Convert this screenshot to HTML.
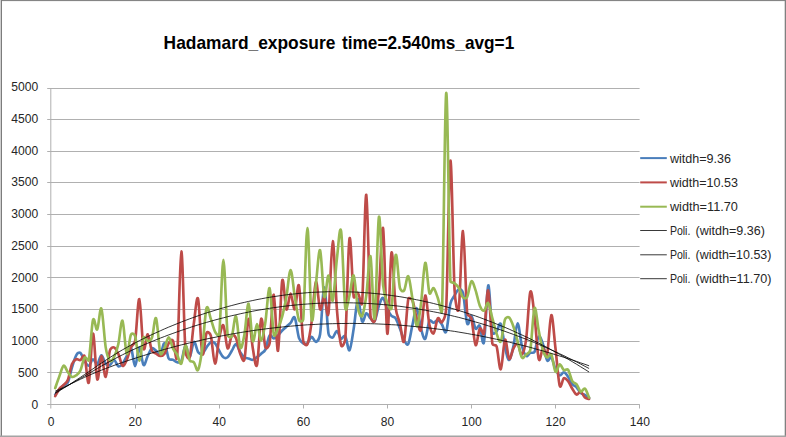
<!DOCTYPE html>
<html><head><meta charset="utf-8"><title>Hadamard_exposure time=2.540ms_avg=1</title>
<style>
html,body{margin:0;padding:0;background:#fff;}
body{width:786px;height:437px;overflow:hidden;}
svg{display:block;}
text{font-family:"Liberation Sans","DejaVu Sans",sans-serif;fill:#262626;}
.ax{font-size:12px;}
.lg{font-size:12px;}
.ti{font-size:18.5px;font-weight:bold;fill:#000;}
</style></head><body>
<svg width="786" height="437" viewBox="0 0 786 437">
<rect x="0" y="0" width="786" height="437" fill="#fff"/>
<line x1="47.2" y1="404.50" x2="639.6" y2="404.50" stroke="#b0b0b0" stroke-width="1"/>
<line x1="47.2" y1="372.50" x2="639.6" y2="372.50" stroke="#b0b0b0" stroke-width="1"/>
<line x1="47.2" y1="341.50" x2="639.6" y2="341.50" stroke="#b0b0b0" stroke-width="1"/>
<line x1="47.2" y1="309.50" x2="639.6" y2="309.50" stroke="#b0b0b0" stroke-width="1"/>
<line x1="47.2" y1="277.50" x2="639.6" y2="277.50" stroke="#b0b0b0" stroke-width="1"/>
<line x1="47.2" y1="246.50" x2="639.6" y2="246.50" stroke="#b0b0b0" stroke-width="1"/>
<line x1="47.2" y1="214.50" x2="639.6" y2="214.50" stroke="#b0b0b0" stroke-width="1"/>
<line x1="47.2" y1="182.50" x2="639.6" y2="182.50" stroke="#b0b0b0" stroke-width="1"/>
<line x1="47.2" y1="151.50" x2="639.6" y2="151.50" stroke="#b0b0b0" stroke-width="1"/>
<line x1="47.2" y1="119.50" x2="639.6" y2="119.50" stroke="#b0b0b0" stroke-width="1"/>
<line x1="47.2" y1="88.50" x2="639.6" y2="88.50" stroke="#b0b0b0" stroke-width="1"/>
<line x1="50.8" y1="88.0" x2="50.8" y2="408.5" stroke="#b0b0b0" stroke-width="1"/>
<line x1="135.5" y1="404.3" x2="135.5" y2="408.5" stroke="#b0b0b0" stroke-width="1"/>
<line x1="219.5" y1="404.3" x2="219.5" y2="408.5" stroke="#b0b0b0" stroke-width="1"/>
<line x1="303.5" y1="404.3" x2="303.5" y2="408.5" stroke="#b0b0b0" stroke-width="1"/>
<line x1="387.5" y1="404.3" x2="387.5" y2="408.5" stroke="#b0b0b0" stroke-width="1"/>
<line x1="471.5" y1="404.3" x2="471.5" y2="408.5" stroke="#b0b0b0" stroke-width="1"/>
<line x1="555.5" y1="404.3" x2="555.5" y2="408.5" stroke="#b0b0b0" stroke-width="1"/>
<line x1="639.5" y1="404.3" x2="639.5" y2="408.5" stroke="#b0b0b0" stroke-width="1"/>
<path d="M55.2,394.8C55.9,393.9 58.0,390.6 59.4,389.1C60.8,387.6 62.2,386.7 63.6,385.6C65.0,384.5 66.7,384.9 67.8,382.5C69.2,379.4 70.6,371.8 72.0,367.3C73.4,362.8 74.8,357.7 76.2,355.3C77.4,353.2 79.0,352.0 80.4,352.9C81.8,353.9 83.2,358.8 84.6,360.9C86.0,363.0 87.4,366.0 88.8,365.7C90.2,365.4 91.6,359.6 93.0,359.3C94.4,359.1 95.8,364.8 97.2,364.1C98.6,363.5 100.0,355.3 101.4,355.3C102.8,355.2 104.3,362.2 105.7,363.8C107.1,365.4 108.5,365.7 109.9,365.1C111.3,364.4 112.7,359.8 114.1,360.0C115.5,360.2 116.9,365.7 118.3,366.3C119.7,367.0 121.1,365.5 122.5,363.8C123.9,362.1 125.3,359.0 126.7,356.2C128.1,353.5 129.5,345.7 130.9,347.4C132.3,349.0 133.7,366.2 135.1,366.2C136.5,366.2 137.9,347.6 139.3,347.4C140.7,347.2 142.1,363.5 143.5,364.9C144.9,366.3 146.3,358.7 147.7,356.0C149.1,353.2 150.5,349.2 151.9,348.3C153.3,347.5 154.7,349.8 156.1,350.8C157.5,351.9 158.9,356.0 160.3,354.7C161.7,353.4 163.1,342.6 164.5,343.3C165.9,343.9 167.3,355.7 168.7,358.5C169.7,360.5 171.5,359.1 172.9,359.8C174.3,360.4 175.7,362.0 177.1,362.3C178.5,362.5 180.3,363.2 181.3,361.3C182.7,358.5 184.1,346.5 185.5,345.8C186.9,345.1 188.3,357.9 189.7,357.2C191.1,356.6 192.5,342.8 193.9,342.0C195.3,341.1 196.7,350.2 198.1,352.1C199.5,353.9 200.9,354.5 202.3,353.7C203.7,352.9 205.1,349.3 206.5,347.4C207.9,345.5 209.4,343.0 210.8,342.3C212.2,341.6 213.6,341.8 215.0,343.3C216.4,344.7 217.8,348.5 219.2,350.8C220.6,353.2 222.0,356.2 223.4,357.2C224.8,358.3 226.2,358.3 227.6,357.2C229.0,356.2 230.4,353.0 231.8,350.8C233.2,348.7 234.6,344.0 236.0,344.2C237.4,344.4 238.8,349.9 240.2,352.1C241.6,354.3 243.0,356.2 244.4,357.2C245.8,358.3 247.2,358.1 248.6,358.5C250.0,358.9 251.4,360.0 252.8,359.8C254.2,359.6 255.6,358.2 257.0,357.2C258.4,356.2 259.8,355.0 261.2,353.7C262.6,352.4 264.2,352.2 265.4,349.6C266.8,346.6 268.2,337.4 269.6,335.6C271.0,333.8 272.4,338.5 273.8,338.5C275.2,338.5 276.6,336.9 278.0,335.6C279.4,334.3 280.8,332.0 282.2,330.5C283.6,329.1 285.0,328.0 286.4,326.7C287.8,325.4 289.2,324.4 290.6,322.9C292.0,321.4 293.4,315.2 294.8,317.8C296.2,320.3 297.6,333.9 299.0,338.1C300.1,341.3 301.8,342.4 303.2,343.3C304.6,344.1 306.0,344.3 307.4,343.3C308.8,342.2 310.2,337.1 311.6,336.9C313.0,336.7 314.5,342.4 315.9,342.0C317.3,341.6 319.4,338.7 320.1,334.3C321.5,325.2 322.9,287.4 324.3,287.3C325.7,287.2 327.1,325.3 328.5,333.6C328.9,336.5 331.3,337.9 332.7,337.5C334.1,337.1 335.5,330.9 336.9,331.1C338.3,331.3 339.7,337.9 341.1,338.8C342.5,339.6 343.9,334.3 345.3,336.2C346.7,338.1 348.1,351.5 349.5,350.2C350.9,348.9 352.3,337.1 353.7,328.6C355.1,320.1 356.5,300.5 357.9,299.3C359.3,298.1 360.7,319.1 362.1,321.4C363.5,323.8 364.9,313.8 366.3,313.3C367.7,312.8 369.1,317.1 370.5,318.4C371.9,319.7 373.4,323.0 374.7,320.9C376.1,318.8 377.5,309.5 378.9,305.7C380.3,301.9 381.7,297.4 383.1,298.0C384.5,298.6 385.9,306.4 387.3,309.4C388.7,312.4 390.1,314.4 391.5,315.9C392.9,317.4 394.4,316.3 395.7,318.4C397.1,320.5 398.5,325.0 399.9,328.6C401.3,332.2 402.7,337.5 404.1,340.0C405.5,342.5 407.0,346.3 408.3,343.8C409.7,341.3 411.1,330.7 412.5,324.8C413.9,318.8 415.3,307.6 416.7,308.2C418.1,308.8 419.6,323.5 421.0,328.6C422.4,333.7 423.8,340.0 425.2,338.8C426.6,337.5 428.0,323.6 429.4,320.9C430.4,318.9 432.2,322.8 433.6,322.7C435.0,322.6 436.4,319.8 437.8,320.2C439.2,320.5 440.6,322.7 442.0,324.6C443.4,326.5 444.8,335.0 446.2,331.6C447.6,328.1 449.0,309.7 450.4,303.7C451.4,299.2 453.2,297.9 454.6,295.5C456.0,293.1 457.4,289.6 458.8,289.2C460.2,288.7 462.3,290.2 463.0,293.0C464.4,298.7 465.8,319.6 467.2,323.5C468.6,327.3 470.0,315.0 471.4,315.9C472.8,316.7 474.2,326.9 475.6,328.6C477.0,330.2 478.5,323.7 479.8,325.9C481.2,328.1 482.6,348.7 484.0,342.0C485.4,335.2 486.8,286.8 488.2,285.3C489.6,283.8 491.0,325.1 492.4,332.8C492.8,335.0 495.2,333.0 496.6,331.6C498.0,330.1 499.4,321.3 500.8,324.0C502.2,326.6 503.6,341.4 505.0,347.4C506.4,353.4 507.8,360.2 509.2,360.0C510.6,359.9 512.0,352.6 513.4,346.4C514.8,340.3 516.2,323.4 517.6,323.2C519.0,323.0 520.4,340.0 521.8,345.5C523.2,350.9 524.7,354.7 526.1,355.9C527.5,357.2 528.9,353.6 530.3,352.9C531.7,352.2 533.5,353.7 534.5,351.8C535.9,349.1 537.3,337.9 538.7,336.6C540.1,335.3 541.5,340.0 542.9,344.0C544.3,348.0 545.7,358.2 547.1,360.4C548.4,362.6 549.9,355.9 551.3,357.4C552.7,358.9 554.1,366.3 555.5,369.3C556.9,372.3 558.3,374.8 559.7,375.3C561.1,375.8 562.5,372.0 563.9,372.3C565.3,372.5 566.7,374.7 568.1,376.7C569.5,378.7 570.9,382.4 572.3,384.2C573.7,385.9 575.1,385.7 576.5,387.2C577.9,388.6 579.3,391.8 580.7,393.1C582.1,394.4 583.5,394.0 584.9,394.8C586.3,395.6 588.4,397.4 589.1,398.0" fill="none" stroke="#4a7ebb" stroke-width="2.65" stroke-linejoin="round" stroke-linecap="round"/>
<path d="M55.2,396.1C55.9,394.9 58.0,390.8 59.4,388.9C60.8,387.1 62.2,386.4 63.6,384.9C65.0,383.5 66.6,383.1 67.8,380.1C69.2,376.7 70.6,367.6 72.0,364.1C73.2,361.2 74.8,360.0 76.2,359.3C77.6,358.6 79.0,360.5 80.4,360.0C81.8,359.5 83.6,353.6 84.6,356.2C86.0,360.0 87.4,386.3 88.8,382.5C90.2,378.8 91.6,334.0 93.0,333.5C94.4,333.0 95.8,375.5 97.2,379.3C98.6,383.1 100.0,356.5 101.4,356.1C102.8,355.7 104.3,377.8 105.7,376.9C107.1,376.0 108.5,355.5 109.9,350.5C110.6,348.0 112.7,346.8 114.1,347.4C115.5,347.9 116.9,350.6 118.3,353.7C119.7,356.7 121.1,364.7 122.5,365.7C123.9,366.8 125.3,363.1 126.7,360.0C128.1,357.0 129.5,350.5 130.9,347.4C132.3,344.2 134.4,344.8 135.1,341.0C136.5,333.0 137.9,297.9 139.3,299.1C140.7,300.3 142.1,342.4 143.5,348.3C144.9,354.2 146.3,333.9 147.7,334.3C149.1,334.8 150.5,347.6 151.9,350.8C152.9,353.2 154.7,352.8 156.1,353.7C157.5,354.5 158.9,356.0 160.3,356.0C161.7,356.0 163.2,355.7 164.5,353.7C165.9,351.6 167.3,345.4 168.7,343.3C170.0,341.2 171.7,338.6 172.9,340.7C174.3,343.1 176.3,365.7 177.1,357.2C178.5,342.4 179.9,252.4 181.3,251.5C182.7,250.6 184.1,334.1 185.5,351.8C185.8,355.3 188.7,360.9 189.7,357.5C191.1,352.7 192.5,332.6 193.9,322.9C195.3,313.1 196.7,293.9 198.1,299.0C199.5,304.2 200.9,348.0 202.3,353.7C203.7,359.4 205.1,336.1 206.5,333.1C207.6,330.8 210.1,333.2 210.8,335.6C212.2,340.7 213.6,363.1 215.0,363.6C216.4,364.0 217.8,344.5 219.2,338.1C220.6,331.8 222.0,323.7 223.4,325.4C224.8,327.1 226.2,346.6 227.6,348.3C229.0,350.0 230.4,337.3 231.8,335.6C233.2,333.9 234.9,335.9 236.0,338.1C237.4,341.1 238.8,350.1 240.2,353.7C241.5,357.1 243.5,363.4 244.4,359.8C245.8,354.0 247.2,320.8 248.6,318.9C250.0,317.0 251.4,340.6 252.8,348.3C254.2,356.0 255.6,369.8 257.0,364.9C258.4,360.0 259.8,321.8 261.2,318.9C262.6,316.0 264.0,343.3 265.4,347.4C266.4,350.1 269.1,346.2 269.6,343.3C271.0,334.5 272.4,293.5 273.8,294.7C275.2,296.0 276.6,353.2 278.0,350.8C279.4,348.5 280.8,287.7 282.2,280.8C283.6,273.8 285.0,307.3 286.4,309.4C287.8,311.5 289.2,293.5 290.6,293.5C292.0,293.5 293.4,310.7 294.8,309.4C296.2,308.1 297.6,280.5 299.0,285.8C300.4,291.1 301.8,331.3 303.2,341.0C303.6,343.6 306.4,346.6 307.4,344.2C308.8,341.0 310.2,332.4 311.6,322.1C313.0,311.7 314.5,284.1 315.9,282.0C317.3,279.9 318.7,307.0 320.1,309.4C321.5,311.9 322.9,296.1 324.3,296.8C325.7,297.4 327.2,321.8 328.5,313.3C329.9,304.1 331.3,241.8 332.7,241.2C334.1,240.5 335.5,292.1 336.9,309.4C338.3,326.7 339.7,340.2 341.1,345.1C342.1,348.7 345.0,342.5 345.3,338.8C346.7,321.0 348.1,245.6 349.5,238.6C350.9,231.6 352.3,287.7 353.7,296.8C354.1,299.6 356.5,291.9 357.9,293.0C359.3,294.0 361.6,308.5 362.1,303.1C363.5,286.7 364.9,192.7 366.3,194.8C367.7,197.0 369.1,294.8 370.5,315.9C370.7,319.1 373.7,324.0 374.7,320.9C376.1,316.7 377.5,305.8 378.9,290.4C380.3,275.0 381.7,221.2 383.1,228.4C384.5,235.6 385.9,329.6 387.3,333.6C388.7,337.7 390.1,256.8 391.5,252.6C392.9,248.4 394.3,296.4 395.7,308.2C396.7,316.1 398.5,317.9 399.9,323.5C401.3,329.0 402.7,345.4 404.1,341.3C405.5,337.2 406.9,305.8 408.3,299.0C408.8,296.8 411.7,298.5 412.5,300.6C413.9,303.8 415.3,313.5 416.7,318.4C418.1,323.3 419.6,333.7 421.0,329.8C422.4,326.0 423.8,296.3 425.2,295.5C426.6,294.6 428.0,318.5 429.4,324.8C430.4,329.5 432.2,334.5 433.6,333.4C435.0,332.4 436.4,320.3 437.8,318.4C439.2,316.5 440.6,323.9 442.0,322.2C443.4,320.5 445.8,315.5 446.2,308.2C447.6,281.3 449.0,163.7 450.4,160.7C451.8,157.8 453.2,265.9 454.6,290.4C455.1,299.6 457.5,317.3 458.8,308.2C460.2,298.3 461.6,230.1 463.0,231.0C464.4,231.8 465.8,298.8 467.2,313.3C467.5,316.6 470.6,315.2 471.4,318.4C472.8,323.7 474.2,343.4 475.6,345.1C477.0,346.8 478.4,330.5 479.8,328.6C481.2,326.7 483.3,336.9 484.0,333.6C485.4,327.3 486.8,288.7 488.2,290.4C489.6,292.1 491.0,334.5 492.4,343.8C492.8,346.3 495.9,344.1 496.6,346.4C498.0,350.7 499.4,370.4 500.8,369.3C502.2,368.2 503.6,341.5 505.0,339.8C506.4,338.0 507.8,357.4 509.2,358.9C510.6,360.3 512.0,351.0 513.4,348.5C514.8,346.0 516.2,343.0 517.6,344.0C519.0,345.0 520.4,355.2 521.8,354.5C523.2,353.7 525.0,347.2 526.1,339.6C527.5,329.2 528.9,295.9 530.3,292.0C531.7,288.0 533.1,304.6 534.5,315.7C535.9,326.9 537.3,353.4 538.7,358.9C540.1,364.3 541.5,349.2 542.9,348.5C544.3,347.8 546.2,358.0 547.1,354.5C548.5,348.9 549.9,316.2 551.3,315.2C552.7,314.2 554.1,336.7 555.5,348.5C556.9,360.3 558.3,380.7 559.7,385.7C560.8,389.8 562.5,379.0 563.9,378.2C565.3,377.5 566.7,379.5 568.1,381.2C569.5,382.9 570.9,386.4 572.3,388.7C573.7,390.9 575.1,394.1 576.5,394.6C577.9,395.1 579.3,391.2 580.7,391.6C582.1,392.1 583.5,396.4 584.9,397.6C586.3,398.8 588.4,398.8 589.1,399.0" fill="none" stroke="#be4b48" stroke-width="2.65" stroke-linejoin="round" stroke-linecap="round"/>
<path d="M55.2,388.1C55.9,386.1 58.0,379.9 59.4,376.1C60.8,372.4 62.2,366.4 63.6,365.7C65.0,365.0 66.4,370.2 67.8,372.0C69.2,373.9 70.6,376.4 72.0,376.9C73.4,377.5 74.8,376.4 76.2,375.3C77.6,374.3 79.1,373.4 80.4,370.5C81.8,367.6 83.2,359.4 84.6,357.7C86.0,355.9 88.3,362.4 88.8,360.0C90.2,353.7 91.6,325.0 93.0,319.9C94.4,314.9 95.8,331.4 97.2,329.5C98.6,327.7 100.0,305.7 101.4,308.7C102.8,311.7 104.3,338.7 105.7,347.4C106.8,354.2 108.5,359.1 109.9,360.7C111.3,362.2 112.8,359.4 114.1,356.9C115.5,354.1 116.9,350.2 118.3,344.2C119.7,338.2 121.1,319.2 122.5,320.7C123.9,322.3 125.3,351.4 126.7,353.7C128.1,356.0 129.5,337.7 130.9,334.7C131.8,332.7 134.4,333.9 135.1,336.0C136.5,340.3 137.9,360.4 139.3,360.7C140.7,360.9 142.1,340.8 143.5,337.6C144.6,335.1 146.3,341.0 147.7,341.0C149.1,341.1 151.0,340.3 151.9,337.9C153.3,334.1 154.7,315.7 156.1,318.3C157.5,320.9 158.9,348.4 160.3,353.4C161.2,356.6 163.1,351.0 164.5,348.3C165.9,345.6 167.3,337.2 168.7,337.2C170.1,337.2 171.5,345.4 172.9,348.3C174.3,351.2 175.7,352.2 177.1,354.7C178.5,357.2 179.9,365.1 181.3,363.6C182.7,362.0 184.1,346.0 185.5,345.5C186.9,344.9 188.3,357.5 189.7,360.3C190.8,362.4 192.5,360.7 193.9,362.3C195.3,363.9 196.7,372.3 198.1,369.9C199.5,367.6 200.9,358.6 202.3,348.3C203.7,338.0 205.1,313.1 206.5,308.2C207.9,303.3 209.4,315.0 210.8,318.9C212.2,322.8 213.6,328.9 215.0,331.6C216.2,333.9 218.9,337.3 219.2,334.7C220.6,322.8 222.0,259.9 223.4,259.9C224.8,259.9 226.2,322.0 227.6,334.7C227.8,336.9 230.8,338.3 231.8,336.3C233.2,333.2 234.6,314.5 236.0,316.4C237.4,318.2 238.8,344.3 240.2,347.4C241.6,350.4 243.1,341.3 244.4,334.7C245.8,327.4 247.2,302.6 248.6,303.7C250.0,304.7 251.4,337.7 252.8,341.0C254.2,344.4 255.6,324.0 257.0,324.0C258.4,323.9 259.8,340.9 261.2,340.5C262.6,340.2 264.0,330.8 265.4,322.1C266.8,313.4 268.2,286.2 269.6,288.3C271.0,290.5 272.4,328.0 273.8,334.7C274.6,338.4 276.6,331.4 278.0,328.4C279.4,325.3 280.8,321.6 282.2,316.4C283.6,311.1 285.0,304.5 286.4,296.8C287.8,289.0 289.2,270.1 290.6,270.1C292.0,270.1 293.4,288.4 294.8,296.8C296.2,305.1 297.6,316.4 299.0,320.2C299.8,322.2 303.0,321.6 303.2,319.5C304.6,304.2 306.0,228.1 307.4,228.0C308.8,227.9 310.2,309.5 311.6,318.9C313.0,328.3 314.5,295.6 315.9,284.1C317.3,272.7 318.7,248.1 320.1,250.2C321.5,252.3 322.9,292.5 324.3,296.8C325.7,301.0 327.1,274.9 328.5,275.5C329.9,276.1 331.3,303.3 332.7,300.6C334.1,297.8 335.5,270.3 336.9,258.8C338.3,247.3 339.7,223.0 341.1,231.3C342.5,239.5 343.9,297.5 345.3,308.2C346.1,314.8 348.1,300.9 349.5,295.5C350.9,290.0 352.3,273.4 353.7,275.5C355.1,277.6 356.5,301.5 357.9,308.2C358.8,312.5 360.7,318.0 362.1,315.9C363.5,313.7 364.9,305.4 366.3,295.5C367.7,285.6 369.1,252.6 370.5,256.4C371.9,260.2 373.3,325.0 374.7,318.4C376.1,311.8 377.5,222.5 378.9,217.0C380.3,211.5 381.7,271.0 383.1,285.3C384.0,294.4 385.9,299.3 387.3,303.1C388.5,306.2 391.0,311.5 391.5,308.2C392.9,300.2 394.3,258.5 395.7,255.1C397.1,251.7 398.5,282.0 399.9,287.9C400.5,290.3 402.7,292.4 404.1,290.4C405.5,288.5 406.9,274.8 408.3,276.3C409.7,277.7 411.1,291.0 412.5,299.3C413.9,307.6 415.3,325.4 416.7,326.2C418.1,326.9 419.6,314.3 421.0,303.7C422.4,293.2 423.8,264.6 425.2,262.8C426.6,261.0 428.0,288.7 429.4,293.0C430.4,296.0 432.2,287.4 433.6,288.2C435.0,289.1 436.4,294.3 437.8,298.0C439.2,301.8 441.7,317.4 442.0,310.7C443.4,276.6 444.8,98.0 446.2,93.1C447.6,88.1 449.0,249.3 450.4,280.9C450.5,283.3 453.2,282.0 454.6,283.2C456.0,284.3 457.4,285.5 458.8,287.9C460.2,290.3 461.6,295.9 463.0,297.4C464.4,298.9 466.2,298.6 467.2,296.8C468.6,294.1 470.0,282.3 471.4,281.3C472.8,280.2 474.2,286.4 475.6,290.4C477.0,294.5 478.4,302.3 479.8,305.7C481.1,308.7 482.6,311.2 484.0,310.7C485.4,310.3 486.8,301.8 488.2,303.1C489.6,304.4 491.0,313.3 492.4,318.4C493.8,323.5 495.2,329.8 496.6,333.6C498.0,337.5 499.4,343.6 500.8,341.3C502.2,338.9 503.6,323.5 505.0,319.5C505.8,317.4 507.8,316.5 509.2,317.6C510.6,318.8 512.0,322.5 513.4,326.5C514.8,330.4 516.2,336.1 517.6,341.3C519.0,346.4 520.4,355.2 521.8,357.4C523.2,359.6 524.7,355.7 526.1,354.5C527.5,353.2 529.7,353.0 530.3,350.0C531.7,342.3 533.1,311.6 534.5,308.3C535.9,305.1 537.3,323.7 538.7,330.6C540.1,337.5 541.5,345.5 542.9,350.0C544.1,354.0 545.7,356.7 547.1,357.4C548.5,358.2 550.0,352.2 551.3,354.5C552.7,356.8 554.1,370.1 555.5,371.7C556.9,373.4 558.3,364.7 559.7,364.4C561.1,364.2 562.5,369.2 563.9,370.1C565.3,371.0 566.8,368.1 568.1,369.8C569.5,371.7 570.9,378.8 572.3,381.2C573.6,383.4 575.1,382.4 576.5,384.2C577.9,385.9 579.3,390.9 580.7,391.6C582.1,392.4 583.5,387.7 584.9,388.7C586.3,389.7 588.4,396.1 589.1,397.6" fill="none" stroke="#98b954" stroke-width="2.65" stroke-linejoin="round" stroke-linecap="round"/>
<path d="M55.2,393.5L59.4,390.8L63.6,388.2L67.8,385.6L72.0,382.9L76.2,380.1L80.4,377.4L84.6,374.5L88.8,371.7L93.0,368.8L97.2,365.9L101.4,363.1L105.7,360.3L109.9,357.5L114.1,354.9L118.3,352.3L122.5,349.8L126.7,347.5L130.9,345.1L135.1,342.9L139.3,340.7L143.5,338.6L147.7,336.6L151.9,334.6L156.1,332.7L160.3,330.8L164.5,328.9L168.7,327.1L172.9,325.4L177.1,323.7L181.3,322.0L185.5,320.4L189.7,318.8L193.9,317.3L198.1,315.8L202.3,314.3L206.5,312.9L210.8,311.6L215.0,310.3L219.2,309.0L223.4,307.8L227.6,306.6L231.8,305.5L236.0,304.4L240.2,303.3L244.4,302.4L248.6,301.4L252.8,300.5L257.0,299.6L261.2,298.8L265.4,298.0L269.6,297.3L273.8,296.6L278.0,296.0L282.2,295.4L286.4,294.8L290.6,294.3L294.8,293.9L299.0,293.4L303.2,293.1L307.4,292.7L311.6,292.4L315.9,292.2L320.1,292.0L324.3,291.9L328.5,291.7L332.7,291.7L336.9,291.7L341.1,291.7L345.3,291.8L349.5,291.9L353.7,292.0L357.9,292.2L362.1,292.5L366.3,292.8L370.5,293.1L374.7,293.5L378.9,293.9L383.1,294.4L387.3,294.9L391.5,295.5L395.7,296.1L399.9,296.7L404.1,297.4L408.3,298.2L412.5,298.9L416.7,299.8L421.0,300.6L425.2,301.6L429.4,302.5L433.6,303.5L437.8,304.6L442.0,305.7L446.2,306.8L450.4,308.0L454.6,309.2L458.8,310.5L463.0,311.8L467.2,313.2L471.4,314.6L475.6,316.0L479.8,317.5L484.0,319.1L488.2,320.7L492.4,322.3L496.6,324.0L500.8,325.7L505.0,327.4L509.2,329.2L513.4,331.1L517.6,333.0L521.8,334.9L526.1,336.9L530.3,338.9L534.5,341.0L538.7,343.1L542.9,345.3L547.1,347.5L551.3,349.8L555.5,352.1L559.7,354.4L563.9,356.8L568.1,359.2L572.3,361.7L576.5,364.2L580.7,366.8L584.9,369.4L589.1,372.0" fill="none" stroke="#000" stroke-width="0.80"/>
<path d="M55.2,392.6L59.4,390.2L63.6,387.9L67.8,385.6L72.0,383.2L76.2,380.8L80.4,378.4L84.6,376.0L88.8,373.5L93.0,371.0L97.2,368.6L101.4,366.1L105.7,363.7L109.9,361.4L114.1,359.1L118.3,356.9L122.5,354.8L126.7,352.7L130.9,350.7L135.1,348.8L139.3,346.9L143.5,345.0L147.7,343.3L151.9,341.5L156.1,339.8L160.3,338.1L164.5,336.5L168.7,334.9L172.9,333.4L177.1,331.9L181.3,330.4L185.5,329.0L189.7,327.6L193.9,326.2L198.1,324.9L202.3,323.6L206.5,322.4L210.8,321.2L215.0,320.0L219.2,318.9L223.4,317.8L227.6,316.7L231.8,315.7L236.0,314.8L240.2,313.8L244.4,312.9L248.6,312.1L252.8,311.2L257.0,310.4L261.2,309.7L265.4,309.0L269.6,308.3L273.8,307.7L278.0,307.1L282.2,306.5L286.4,306.0L290.6,305.5L294.8,305.1L299.0,304.7L303.2,304.3L307.4,304.0L311.6,303.7L315.9,303.4L320.1,303.2L324.3,303.0L328.5,302.9L332.7,302.8L336.9,302.7L341.1,302.7L345.3,302.7L349.5,302.8L353.7,302.9L357.9,303.0L362.1,303.2L366.3,303.4L370.5,303.6L374.7,303.9L378.9,304.2L383.1,304.6L387.3,304.9L391.5,305.4L395.7,305.8L399.9,306.3L404.1,306.9L408.3,307.5L412.5,308.1L416.7,308.8L421.0,309.5L425.2,310.2L429.4,311.0L433.6,311.8L437.8,312.6L442.0,313.5L446.2,314.4L450.4,315.4L454.6,316.4L458.8,317.4L463.0,318.5L467.2,319.6L471.4,320.8L475.6,322.0L479.8,323.2L484.0,324.5L488.2,325.8L492.4,327.1L496.6,328.5L500.8,329.9L505.0,331.4L509.2,332.9L513.4,334.4L517.6,336.0L521.8,337.6L526.1,339.2L530.3,340.9L534.5,342.6L538.7,344.4L542.9,346.2L547.1,348.0L551.3,349.9L555.5,351.8L559.7,353.8L563.9,355.7L568.1,357.8L572.3,359.8L576.5,361.9L580.7,364.1L584.9,366.3L589.1,368.5" fill="none" stroke="#000" stroke-width="0.80"/>
<path d="M55.2,391.2L59.4,389.3L63.6,387.4L67.8,385.4L72.0,383.3L76.2,381.3L80.4,379.3L84.6,377.3L88.8,375.4L93.0,373.6L97.2,371.9L101.4,370.2L105.7,368.5L109.9,367.0L114.1,365.4L118.3,363.9L122.5,362.5L126.7,361.0L130.9,359.6L135.1,358.3L139.3,356.9L143.5,355.6L147.7,354.3L151.9,353.0L156.1,351.8L160.3,350.6L164.5,349.4L168.7,348.3L172.9,347.1L177.1,346.0L181.3,344.9L185.5,343.9L189.7,342.9L193.9,341.9L198.1,340.9L202.3,339.9L206.5,339.0L210.8,338.1L215.0,337.3L219.2,336.4L223.4,335.6L227.6,334.8L231.8,334.0L236.0,333.3L240.2,332.6L244.4,331.9L248.6,331.3L252.8,330.6L257.0,330.0L261.2,329.5L265.4,328.9L269.6,328.4L273.8,327.9L278.0,327.4L282.2,327.0L286.4,326.5L290.6,326.2L294.8,325.8L299.0,325.4L303.2,325.1L307.4,324.8L311.6,324.6L315.9,324.4L320.1,324.1L324.3,324.0L328.5,323.8L332.7,323.7L336.9,323.6L341.1,323.5L345.3,323.5L349.5,323.4L353.7,323.4L357.9,323.5L362.1,323.5L366.3,323.6L370.5,323.7L374.7,323.8L378.9,324.0L383.1,324.2L387.3,324.4L391.5,324.7L395.7,324.9L399.9,325.2L404.1,325.5L408.3,325.9L412.5,326.3L416.7,326.7L421.0,327.1L425.2,327.5L429.4,328.0L433.6,328.5L437.8,329.1L442.0,329.6L446.2,330.2L450.4,330.8L454.6,331.4L458.8,332.1L463.0,332.8L467.2,333.5L471.4,334.3L475.6,335.0L479.8,335.8L484.0,336.7L488.2,337.5L492.4,338.4L496.6,339.3L500.8,340.2L505.0,341.2L509.2,342.1L513.4,343.2L517.6,344.2L521.8,345.2L526.1,346.3L530.3,347.4L534.5,348.6L538.7,349.8L542.9,350.9L547.1,352.2L551.3,353.4L555.5,354.7L559.7,356.0L563.9,357.3L568.1,358.7L572.3,360.0L576.5,361.4L580.7,362.9L584.9,364.3L589.1,365.8" fill="none" stroke="#000" stroke-width="0.80"/>
<text x="31.5" y="408.7" class="ax" textLength="6.7" lengthAdjust="spacingAndGlyphs">0</text>
<text x="18.0" y="376.9" class="ax" textLength="20.2" lengthAdjust="spacingAndGlyphs">500</text>
<text x="11.3" y="345.2" class="ax" textLength="26.9" lengthAdjust="spacingAndGlyphs">1000</text>
<text x="11.3" y="313.4" class="ax" textLength="26.9" lengthAdjust="spacingAndGlyphs">1500</text>
<text x="11.3" y="281.7" class="ax" textLength="26.9" lengthAdjust="spacingAndGlyphs">2000</text>
<text x="11.3" y="249.9" class="ax" textLength="26.9" lengthAdjust="spacingAndGlyphs">2500</text>
<text x="11.3" y="218.1" class="ax" textLength="26.9" lengthAdjust="spacingAndGlyphs">3000</text>
<text x="11.3" y="186.4" class="ax" textLength="26.9" lengthAdjust="spacingAndGlyphs">3500</text>
<text x="11.3" y="154.6" class="ax" textLength="26.9" lengthAdjust="spacingAndGlyphs">4000</text>
<text x="11.3" y="122.9" class="ax" textLength="26.9" lengthAdjust="spacingAndGlyphs">4500</text>
<text x="11.3" y="91.1" class="ax" textLength="26.9" lengthAdjust="spacingAndGlyphs">5000</text>
<text x="47.8" y="425.9" class="ax" textLength="6.7" lengthAdjust="spacingAndGlyphs">0</text>
<text x="128.6" y="425.9" class="ax" textLength="13.4" lengthAdjust="spacingAndGlyphs">20</text>
<text x="212.6" y="425.9" class="ax" textLength="13.4" lengthAdjust="spacingAndGlyphs">40</text>
<text x="296.7" y="425.9" class="ax" textLength="13.4" lengthAdjust="spacingAndGlyphs">60</text>
<text x="380.8" y="425.9" class="ax" textLength="13.4" lengthAdjust="spacingAndGlyphs">80</text>
<text x="461.5" y="425.9" class="ax" textLength="20.2" lengthAdjust="spacingAndGlyphs">100</text>
<text x="545.6" y="425.9" class="ax" textLength="20.2" lengthAdjust="spacingAndGlyphs">120</text>
<text x="629.7" y="425.9" class="ax" textLength="20.2" lengthAdjust="spacingAndGlyphs">140</text>
<text x="163.6" y="48.9" class="ti"><tspan textLength="171.8" lengthAdjust="spacingAndGlyphs">Hadamard_exposure</tspan> <tspan x="342.0" textLength="172.2" lengthAdjust="spacingAndGlyphs">time=2.540ms_avg=1</tspan></text>
<line x1="640.2" y1="158.1" x2="666.8" y2="158.1" stroke="#4a7ebb" stroke-width="2.00" stroke-linecap="butt"/>
<text x="669.9" y="162.5" class="lg" textLength="61.1" lengthAdjust="spacingAndGlyphs">witdh=9.36</text>
<line x1="640.2" y1="182.4" x2="666.8" y2="182.4" stroke="#be4b48" stroke-width="2.00" stroke-linecap="butt"/>
<text x="669.9" y="186.8" class="lg" textLength="68.0" lengthAdjust="spacingAndGlyphs">width=10.53</text>
<line x1="640.2" y1="206.7" x2="666.8" y2="206.7" stroke="#98b954" stroke-width="2.00" stroke-linecap="butt"/>
<text x="669.9" y="211.1" class="lg" textLength="68.0" lengthAdjust="spacingAndGlyphs">width=11.70</text>
<line x1="640.2" y1="230.5" x2="666.8" y2="230.5" stroke="#222" stroke-width="0.90" stroke-linecap="butt"/>
<text x="669.9" y="234.9" class="lg"><tspan textLength="20.5" lengthAdjust="spacingAndGlyphs">Poli.</tspan> <tspan x="695.6" textLength="69.3" lengthAdjust="spacingAndGlyphs">(witdh=9.36)</tspan></text>
<line x1="640.2" y1="254.8" x2="666.8" y2="254.8" stroke="#222" stroke-width="0.90" stroke-linecap="butt"/>
<text x="669.9" y="259.2" class="lg"><tspan textLength="20.5" lengthAdjust="spacingAndGlyphs">Poli.</tspan> <tspan x="695.6" textLength="75.8" lengthAdjust="spacingAndGlyphs">(width=10.53)</tspan></text>
<line x1="640.2" y1="278.7" x2="666.8" y2="278.7" stroke="#222" stroke-width="0.90" stroke-linecap="butt"/>
<text x="669.9" y="283.1" class="lg"><tspan textLength="20.5" lengthAdjust="spacingAndGlyphs">Poli.</tspan> <tspan x="695.6" textLength="75.8" lengthAdjust="spacingAndGlyphs">(width=11.70)</tspan></text>
<rect x="0" y="0" width="786" height="1.1" fill="#858585"/>
<rect x="0" y="0" width="1" height="437" fill="#cfcfcf"/>
<rect x="1" y="0" width="1" height="437" fill="#7c7c7c"/>
<rect x="784.7" y="0" width="1.3" height="437" fill="#808080"/>
<rect x="0" y="435.5" width="786" height="1.5" fill="#a4a4a4"/>
</svg>
</body></html>
